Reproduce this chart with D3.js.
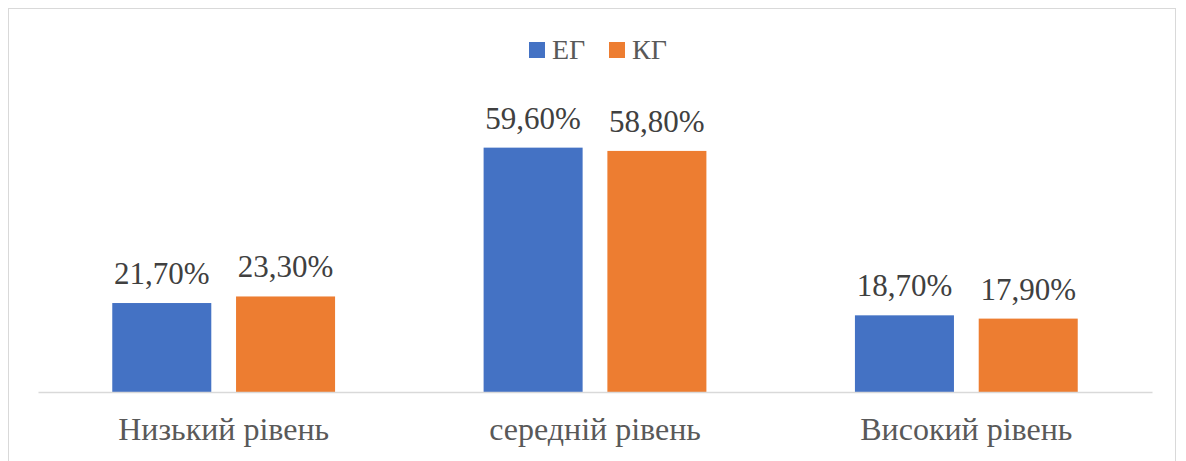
<!DOCTYPE html>
<html>
<head>
<meta charset="utf-8">
<script src="https://cdn.jsdelivr.net/npm/d3@7"></script>
<style>
  body { margin: 0; background: #fff; }
</style>
</head>
<body>
<script>
const categories = ["Низький рівень", "середній рівень", "Високий рівень"];
const seriesNames = ["ЕГ", "КГ"];
const egValues = [21.7, 59.6, 18.7];
const kgValues = [23.3, 58.8, 17.9];
const colors = ["#4472c4", "#ed7d31"];

const font = "'Liberation Serif', 'Times New Roman', serif";
const width = 1186, height = 461;
const margin = { top: 105, right: 34, bottom: 69, left: 38 };

const data = categories.map((c, i) => ({ cat: c, values: [egValues[i], kgValues[i]] }));

const svg = d3.select("body").append("svg")
    .attr("width", width)
    .attr("height", height)
    .style("font-family", font);

// chart frame
svg.append("rect")
    .attr("x", 8.5).attr("y", 8.5)
    .attr("width", 1167).attr("height", 470)
    .attr("fill", "none")
    .attr("stroke", "#d9d9d9");

const x0 = d3.scaleBand()
    .domain(categories)
    .range([margin.left, width - margin.right])
    .paddingInner(0.4)
    .paddingOuter(0.2);

const x1 = d3.scaleBand()
    .domain(seriesNames)
    .range([0, x0.bandwidth()])
    .padding(0.2)
    .paddingOuter(0);

const y = d3.scaleLinear()
    .domain([0, 70])
    .range([height - margin.bottom, margin.top]);

const groups = svg.append("g")
    .selectAll("g")
    .data(data)
    .join("g")
    .attr("transform", d => `translate(${x0(d.cat)},0)`);

groups.selectAll("rect")
    .data(d => d.values.map((v, i) => ({ key: seriesNames[i], v, i })))
    .join("rect")
    .attr("x", d => x1(d.key))
    .attr("y", d => y(d.v))
    .attr("width", x1.bandwidth())
    .attr("height", d => y(0) - y(d.v))
    .attr("fill", d => colors[d.i]);

groups.selectAll("text.val")
    .data(d => d.values.map((v, i) => ({ key: seriesNames[i], v, i })))
    .join("text")
    .attr("class", "val")
    .attr("x", d => x1(d.key) + x1.bandwidth() / 2)
    .attr("y", d => y(d.v) - 19)
    .attr("text-anchor", "middle")
    .attr("font-family", font)
    .attr("font-size", 31)
    .attr("fill", "#404040")
    .text(d => d.v.toFixed(2).replace(".", ",") + "%");

// x axis
const xAxis = g => g
    .attr("transform", `translate(0,${height - margin.bottom})`)
    .call(d3.axisBottom(x0).tickSize(0).tickPadding(25).tickSizeOuter(0))
    .attr("font-family", font)
    .call(g => g.select(".domain").attr("stroke", "#d9d9d9").attr("stroke-width", 1.5))
    .call(g => g.selectAll(".tick text")
        .attr("font-size", 32)
        .attr("fill", "#595959"));

svg.append("g").call(xAxis);

// legend
const legend = svg.append("g").attr("transform", "translate(529,42)");
const items = [{ name: "ЕГ", x: 0 }, { name: "КГ", x: 80 }];
items.forEach((it, i) => {
    legend.append("rect")
        .attr("x", it.x).attr("y", 0)
        .attr("width", 16).attr("height", 16)
        .attr("fill", colors[i]);
    legend.append("text")
        .attr("x", it.x + 23).attr("y", 17)
        .attr("font-family", font)
        .attr("font-size", 28)
        .attr("fill", "#595959")
        .text(it.name);
});
</script>
</body>
</html>
